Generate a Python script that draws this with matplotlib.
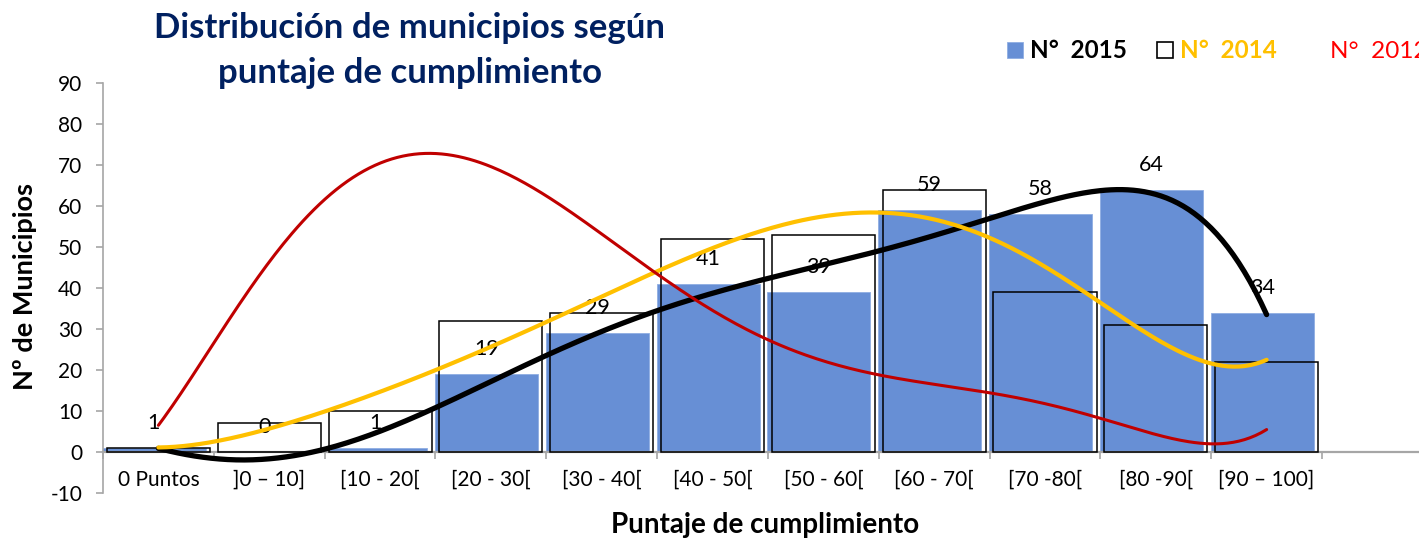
import numpy as np
import matplotlib
matplotlib.use("Agg")
import matplotlib.pyplot as plt
from matplotlib.patches import Rectangle

plt.rcParams['font.family'] = ['Lato', 'DejaVu Sans']
plt.rcParams['axes.unicode_minus'] = False

categorias = ["0 Puntos", "]0 – 10]", "[10 - 20[", "[20 - 30[", "[30 - 40[", "[40 - 50[",
              "[50 - 60[", "[60 - 70[", "[70 -80[", "[80 -90[", "[90 – 100]"]
n_2015 = [1, 0, 1, 19, 29, 41, 39, 59, 58, 64, 34]
n_2014 = [1, 7, 10, 32, 34, 52, 53, 64, 39, 31, 22]

paso = 0.5
tend_2015 = [0.8, -1.4, -1.8, 0.8, 5.1, 10.5, 17.5, 23.4, 29.0, 34.7, 39.2,
             42.4, 45.7, 48.9, 51.8, 57.2, 61.5, 64.0, 63.2, 53.6, 33.9]
tend_2014 = [1.0, 2.7, 5.8, 9.8, 14.4, 20.0, 25.8, 31.6, 38.0, 44.4, 49.7,
             54.2, 57.3, 58.2, 56.8, 52.6, 45.3, 36.3, 27.4, 21.7, 22.5]
tend_2012 = [6.7, 26.3, 46.1, 61.9, 70.6, 73.2, 69.2, 62.4, 53.0, 43.6, 34.1,
             27.4, 22.5, 19.5, 16.4, 13.9, 11.6, 8.3, 4.3, 2.3, 5.3]


def suave(vals, grado=6, n=400):
    # la tendencia polinomica de excel, suavizada sobre los puntos leidos
    y = np.asarray(vals, float)
    xp = np.arange(len(y)) * paso
    coef = np.polyfit(xp, y, grado)
    xs = np.linspace(xp[0], xp[-1], n)
    return xs, np.polyval(coef, xs)


azul = '#678FD5'
gris = '#A6A6A6'

fig = plt.figure(figsize=(14.19, 5.4), dpi=100)
ax = fig.add_axes([103 / 1419, 47 / 540, 1316 / 1419, 410 / 540])

x = np.arange(len(categorias))
ax.bar(x - 0.04, n_2015, width=0.93, color=azul, edgecolor='#8FAEE2', linewidth=0.6, zorder=2)
ax.bar(x, n_2014, width=0.93, facecolor='none', edgecolor='black', linewidth=1.1, zorder=3)

for xi, v in zip(x, n_2015):
    ax.annotate(str(v), (xi - 0.04, v), xytext=(0, 13.6), textcoords='offset points',
                ha='center', va='baseline', fontsize=15.5, zorder=4)

ax.plot(*suave(tend_2015), color='black', lw=3.8, solid_capstyle='round', zorder=5)
ax.plot(*suave(tend_2014), color='#FFC000', lw=3.0, solid_capstyle='round', zorder=6)
ax.plot(*suave(tend_2012), color='#C00000', lw=2.2, solid_capstyle='round', zorder=7)

ax.set_xlim(-0.5, 11.375)
ax.set_ylim(-10, 90)
ax.set_yticks(range(-10, 100, 10))
for s in ['top', 'right']:
    ax.spines[s].set_visible(False)
ax.spines['left'].set_color(gris)
ax.spines['left'].set_linewidth(1.2)
ax.spines['bottom'].set_position(('data', 0))
ax.spines['bottom'].set_color(gris)
ax.spines['bottom'].set_linewidth(1.6)

ax.set_xticks(x)
ax.set_xticklabels(categorias)
ax.set_xticks(np.arange(-0.5, 11, 1), minor=True)
ax.tick_params(axis='x', which='major', length=0, pad=13, labelsize=15)
ax.tick_params(axis='x', which='minor', length=5, width=1.2, color=gris)
ax.tick_params(axis='y', length=5, width=1.2, color=gris, pad=10, labelsize=15)

fig.text(410 / 1419, 1 - 38 / 540, "Distribución de municipios según", ha='center', va='baseline',
         fontsize=25, fontweight='bold', color='#002060')
fig.text(410 / 1419, 1 - 83 / 540, "puntaje de cumplimiento", ha='center', va='baseline',
         fontsize=25, fontweight='bold', color='#002060')

fig.text(25 / 1419, 1 - 286 / 540, "Nº de Municipios", rotation=90, ha='center', va='center',
         fontsize=19.5, fontweight='bold')
fig.text(765 / 1419, 1 - 533 / 540, "Puntaje de cumplimiento", ha='center', va='baseline',
         fontsize=20, fontweight='bold')

# leyenda
ley_y = 1 - 58 / 540
fig.add_artist(Rectangle((1007 / 1419, ley_y), 16 / 1419, 16 / 540, transform=fig.transFigure,
                         facecolor=azul, edgecolor='#8FAEE2', lw=0.6))
fig.text(1030 / 1419, ley_y, "N°  2015", va='baseline', fontsize=17.5, fontweight='bold', color='black')
fig.add_artist(Rectangle((1157 / 1419, ley_y), 16 / 1419, 16 / 540, transform=fig.transFigure,
                         facecolor='white', edgecolor='black', lw=1.2))
fig.text(1180 / 1419, ley_y, "N°  2014", va='baseline', fontsize=17.5, fontweight='bold', color='#FFC000')
fig.text(1330 / 1419, ley_y, "N°  2012", va='baseline', fontsize=17.5, color='#FF0000')

fig.savefig('out.png', dpi=100)
